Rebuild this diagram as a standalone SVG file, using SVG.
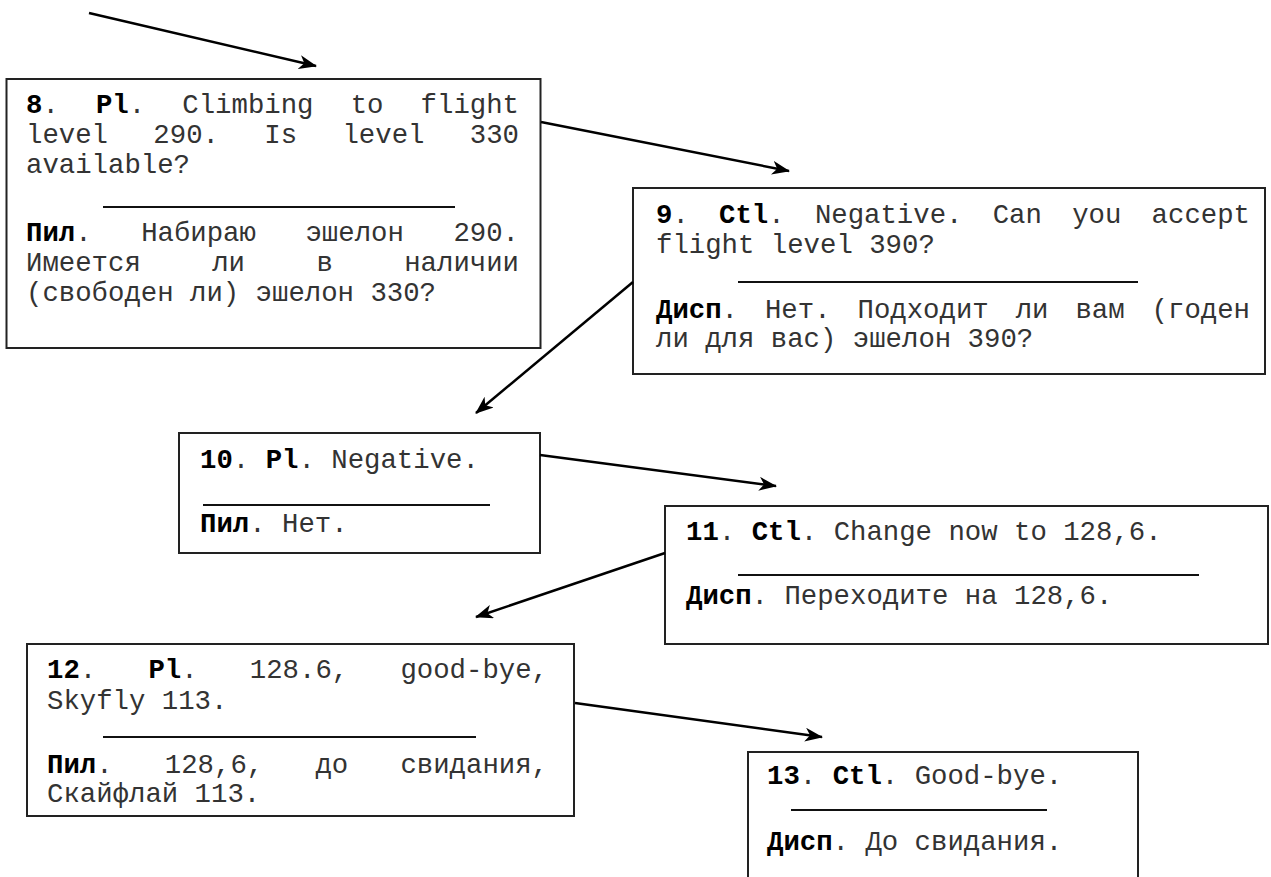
<svg xmlns="http://www.w3.org/2000/svg" width="1271" height="877" viewBox="0 0 1271 877">
  <defs>
    <marker id="head" viewBox="0 0 18 14" refX="17" refY="7" markerWidth="18" markerHeight="14" markerUnits="userSpaceOnUse" orient="auto">
      <path d="M0,0 L18,7 L0,14 L5,7 z" fill="#000"/>
    </marker>
  </defs>
  <style>
    .box { fill: #fff; stroke: #222; stroke-width: 2; }
    .sep { stroke: #111; stroke-width: 2.2; }
    .arrow { stroke: #000; stroke-width: 2.5; fill: none; marker-end: url(#head); }
    text { font-family: "Liberation Mono", "Courier New", monospace; font-size: 27.33px; fill: #333; }
    .b { font-weight: bold; fill: #000; }
  </style>
  <rect width="1271" height="877" fill="#fff"/>

  <!-- message 8 -->
  <g id="msg8">
    <rect class="box" x="6.5" y="79" width="534" height="269"/>
    <text y="113"><tspan x="26" class="b">8</tspan><tspan>.</tspan><tspan x="95.95" class="b">Pl</tspan><tspan>.</tspan><tspan x="182.3">Climbing</tspan><tspan x="350.65">to</tspan><tspan x="420.6">flight</tspan></text>
    <text y="143"><tspan x="26">level</tspan><tspan x="153.35">290.</tspan><tspan x="264.3">Is</tspan><tspan x="342.45">level</tspan><tspan x="469.8">330</tspan></text>
    <text x="26" y="173">available?</text>
    <line class="sep" x1="103" y1="207" x2="455" y2="207"/>
    <text y="241"><tspan x="26" class="b">Пил</tspan><tspan>.</tspan><tspan x="141.13">Набираю</tspan><tspan x="305.46">эшелон</tspan><tspan x="453.4">290.</tspan></text>
    <text y="271"><tspan x="26">Имеется</tspan><tspan x="212.2">ли</tspan><tspan x="316.4">в</tspan><tspan x="404.2">наличии</tspan></text>
    <text x="26" y="301">(свободен ли) эшелон 330?</text>
  </g>

  <!-- message 9 -->
  <g id="msg9">
    <rect class="box" x="633" y="188" width="632" height="186"/>
    <text y="223"><tspan x="656" class="b">9</tspan><tspan>.</tspan><tspan x="719.04" class="b">Ctl</tspan><tspan>.</tspan><tspan x="814.88">Negative.</tspan><tspan x="992.72">Can</tspan><tspan x="1072.16">you</tspan><tspan x="1151.6">accept</tspan></text>
    <text x="656" y="253">flight level 390?</text>
    <line class="sep" x1="738" y1="282" x2="1138" y2="282"/>
    <text y="318"><tspan x="656" class="b">Дисп</tspan><tspan>.</tspan><tspan x="764.96">Нет.</tspan><tspan x="857.52">Подходит</tspan><tspan x="1015.68">ли</tspan><tspan x="1075.44">вам</tspan><tspan x="1151.6">(годен</tspan></text>
    <text x="656" y="347">ли для вас) эшелон 390?</text>
  </g>

  <!-- message 10 -->
  <g id="msg10">
    <rect class="box" x="179" y="433" width="361" height="120"/>
    <text x="200" y="468"><tspan class="b">10</tspan>. <tspan class="b">Pl</tspan>. Negative.</text>
    <line class="sep" x1="203" y1="505" x2="490" y2="505"/>
    <text x="200" y="532"><tspan class="b">Пил</tspan>. Нет.</text>
  </g>

  <!-- message 11 -->
  <g id="msg11">
    <rect class="box" x="665" y="506" width="603" height="138"/>
    <text x="686" y="540"><tspan class="b">11</tspan>. <tspan class="b">Ctl</tspan>. Change now to 128,6.</text>
    <line class="sep" x1="738" y1="575" x2="1199" y2="575"/>
    <text x="686" y="604"><tspan class="b">Дисп</tspan>. Переходите на 128,6.</text>
  </g>

  <!-- message 12 -->
  <g id="msg12">
    <rect class="box" x="27" y="644" width="547" height="172"/>
    <text y="678"><tspan x="47" class="b">12</tspan><tspan>.</tspan><tspan x="148.4" class="b">Pl</tspan><tspan>.</tspan><tspan x="249.8">128.6,</tspan><tspan x="400.4">good-bye,</tspan></text>
    <text x="47" y="709">Skyfly 113.</text>
    <line class="sep" x1="103" y1="737" x2="476" y2="737"/>
    <text y="773"><tspan x="47" class="b">Пил</tspan><tspan>.</tspan><tspan x="164.8">128,6,</tspan><tspan x="315.4">до</tspan><tspan x="400.4">свидания,</tspan></text>
    <text x="47" y="802">Скайфлай 113.</text>
  </g>

  <!-- message 13 (runs past the bottom edge) -->
  <g id="msg13">
    <rect class="box" x="748" y="752" width="390" height="140"/>
    <text x="767" y="784"><tspan class="b">13</tspan>. <tspan class="b">Ctl</tspan>. Good-bye.</text>
    <line class="sep" x1="791" y1="810" x2="1047" y2="810"/>
    <text x="767" y="850"><tspan class="b">Дисп</tspan>. До свидания.</text>
  </g>

  <!-- connectors -->
  <g id="connectors">
    <line class="arrow" x1="89" y1="13" x2="316" y2="66"/>
    <line class="arrow" x1="541" y1="122" x2="789" y2="171"/>
    <line class="arrow" x1="633" y1="282" x2="476" y2="413"/>
    <line class="arrow" x1="540" y1="455" x2="776" y2="486"/>
    <line class="arrow" x1="665" y1="553" x2="476" y2="617"/>
    <line class="arrow" x1="575" y1="703" x2="822" y2="737"/>
  </g>
</svg>
